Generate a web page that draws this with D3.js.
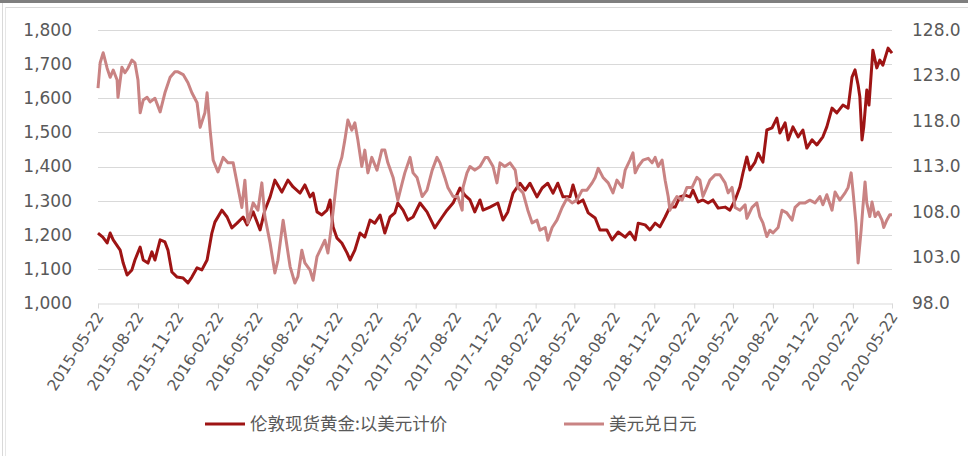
<!DOCTYPE html>
<html>
<head>
<meta charset="utf-8">
<script src="https://cdn.jsdelivr.net/npm/d3@7"></script>
<style>
  html, body { margin: 0; padding: 0; background: #fff; }
  svg { display: block; }
</style>
</head>
<body>
<svg id="chart" width="968" height="456"></svg>
<script>
// ---------------- DATA ----------------
const seriesNames = ["伦敦现货黄金:以美元计价", "美元兑日元"];

const leftTicks = [1000, 1100, 1200, 1300, 1400, 1500, 1600, 1700, 1800];
const rightTicks = [98, 103, 108, 113, 118, 123, 128];
const xTickLabels = ["2015-05-22","2015-08-22","2015-11-22","2016-02-22","2016-05-22","2016-08-22",
  "2016-11-22","2017-02-22","2017-05-22","2017-08-22","2017-11-22","2018-02-22","2018-05-22",
  "2018-08-22","2018-11-22","2019-02-22","2019-05-22","2019-08-22","2019-11-22","2020-02-22","2020-05-22"];

const goldDates = ["2015-05-22","2015-06-02","2015-06-12","2015-06-19","2015-06-26","2015-07-12","2015-07-19","2015-07-28",
  "2015-08-08","2015-08-15","2015-08-27","2015-09-03","2015-09-14","2015-09-23","2015-09-30","2015-10-12","2015-10-23",
  "2015-10-30","2015-11-08","2015-11-20","2015-12-04","2015-12-15","2015-12-24","2016-01-05","2016-01-16","2016-01-28",
  "2016-02-08","2016-02-15","2016-03-02","2016-03-14","2016-03-25","2016-04-06","2016-04-20","2016-04-29","2016-05-13",
  "2016-05-29","2016-06-09","2016-06-21","2016-07-02","2016-07-18","2016-08-01","2016-08-13","2016-08-29","2016-09-09",
  "2016-09-21","2016-09-28","2016-10-07","2016-10-18","2016-10-30","2016-11-06","2016-11-13","2016-11-22","2016-12-03",
  "2016-12-15","2016-12-22","2017-01-02","2017-01-14","2017-01-25","2017-02-06","2017-02-17","2017-03-01","2017-03-12",
  "2017-03-24","2017-04-04","2017-04-11","2017-04-23","2017-05-04","2017-05-16","2017-06-01","2017-06-17","2017-07-05",
  "2017-07-22","2017-08-02","2017-08-16","2017-09-01","2017-09-12","2017-09-24","2017-10-05","2017-10-17","2017-10-24",
  "2017-11-09","2017-11-27","2017-12-09","2017-12-20","2018-01-01","2018-01-17","2018-01-29","2018-02-09","2018-02-25",
  "2018-03-09","2018-03-22","2018-04-03","2018-04-14","2018-04-26","2018-05-12","2018-05-19","2018-05-31","2018-06-11",
  "2018-06-23","2018-07-09","2018-07-20","2018-08-05","2018-08-17","2018-08-31","2018-09-16","2018-09-27","2018-10-09",
  "2018-10-16","2018-11-01","2018-11-12","2018-11-24","2018-12-05","2018-12-17","2018-12-28","2019-01-09","2019-01-20",
  "2019-02-01","2019-02-12","2019-02-19","2019-03-03","2019-03-14","2019-03-26","2019-04-06","2019-04-18","2019-05-04",
  "2019-05-15","2019-05-27","2019-06-07","2019-06-14","2019-06-23","2019-06-30","2019-07-12","2019-07-19","2019-07-30",
  "2019-08-08","2019-08-20","2019-08-31","2019-09-07","2019-09-19","2019-09-26","2019-10-07","2019-10-19","2019-10-30",
  "2019-11-08","2019-11-20","2019-12-01","2019-12-15","2019-12-24","2020-01-05","2020-01-16","2020-01-30","2020-02-11",
  "2020-02-20","2020-02-27","2020-03-05","2020-03-09","2020-03-14","2020-03-18","2020-03-25","2020-03-30","2020-04-08",
  "2020-04-17","2020-04-24","2020-05-01","2020-05-13","2020-05-22"];
const goldValues = [1205,1193,1176,1205,1185,1155,1117,1082,
  1097,1126,1164,1126,1117,1150,1126,1185,1179,
  1155,1091,1076,1073,1059,1076,1103,1097,1126,
  1205,1237,1272,1252,1220,1234,1252,1229,1267,
  1214,1272,1311,1360,1325,1360,1340,1322,1346,
  1311,1322,1267,1258,1272,1302,1223,1190,1176,
  1147,1126,1155,1205,1193,1243,1234,1258,1205,
  1252,1264,1293,1272,1243,1252,1293,1267,1220,
  1252,1272,1293,1337,1316,1302,1267,1302,1272,
  1281,1293,1243,1267,1322,1351,1331,1351,1311,
  1337,1351,1322,1351,1311,1311,1346,1293,1302,
  1264,1249,1214,1214,1185,1208,1193,1208,1185,
  1234,1229,1214,1234,1223,1252,1281,1281,1311,
  1316,1311,1331,1296,1302,1293,1302,1278,1281,
  1272,1302,1340,1381,1428,1390,1413,1439,1413,
  1507,1513,1542,1498,1528,1478,1516,1487,1507,
  1454,1478,1463,1487,1516,1571,1557,1580,1571,
  1662,1683,1639,1604,1478,1516,1624,1580,1741,
  1689,1712,1697,1747,1732];

const jpyDates = ["2015-05-22","2015-05-27","2015-06-03","2015-06-12","2015-06-19","2015-06-26","2015-07-05","2015-07-07",
  "2015-07-16","2015-07-23","2015-07-30","2015-08-08","2015-08-15","2015-08-22","2015-08-27","2015-09-03","2015-09-12",
  "2015-09-19","2015-09-30","2015-10-12","2015-10-23","2015-11-04","2015-11-15","2015-11-22","2015-12-04","2015-12-15",
  "2015-12-24","2016-01-05","2016-01-12","2016-01-23","2016-01-28","2016-02-04","2016-02-11","2016-02-22","2016-03-05",
  "2016-03-16","2016-03-28","2016-04-08","2016-04-17","2016-04-24","2016-05-01","2016-05-13","2016-05-24","2016-06-02",
  "2016-06-09","2016-06-21","2016-07-02","2016-07-09","2016-07-21","2016-07-30","2016-08-06","2016-08-17","2016-08-24",
  "2016-09-02","2016-09-09","2016-09-21","2016-09-28","2016-10-07","2016-10-18","2016-10-25","2016-11-01","2016-11-08",
  "2016-11-17","2016-11-24","2016-12-03","2016-12-10","2016-12-17","2016-12-26","2017-01-02","2017-01-09","2017-01-18",
  "2017-01-25","2017-02-01","2017-02-10","2017-02-22","2017-03-05","2017-03-12","2017-03-19","2017-03-31","2017-04-11",
  "2017-04-21","2017-04-27","2017-05-09","2017-05-16","2017-05-25","2017-06-06","2017-06-17","2017-06-29","2017-07-10",
  "2017-07-17","2017-07-28","2017-08-04","2017-08-16","2017-08-27","2017-09-06","2017-09-08","2017-09-17","2017-09-24",
  "2017-10-05","2017-10-17","2017-10-29","2017-11-04","2017-11-16","2017-11-25","2017-12-02","2017-12-13","2017-12-25",
  "2018-01-06","2018-01-12","2018-01-24","2018-02-04","2018-02-14","2018-02-25","2018-03-04","2018-03-16","2018-03-22",
  "2018-04-01","2018-04-12","2018-04-24","2018-05-05","2018-05-17","2018-05-28","2018-06-09","2018-06-20","2018-07-02",
  "2018-07-09","2018-07-16","2018-07-27","2018-08-08","2018-08-19","2018-08-28","2018-09-09","2018-09-16","2018-09-27",
  "2018-10-04","2018-10-09","2018-10-16","2018-10-27","2018-11-08","2018-11-17","2018-11-24","2018-12-01","2018-12-10",
  "2018-12-17","2018-12-24","2018-12-28","2019-01-04","2019-01-13","2019-01-25","2019-02-05","2019-02-17","2019-02-28",
  "2019-03-07","2019-03-14","2019-03-23","2019-03-30","2019-04-11","2019-04-22","2019-05-04","2019-05-11","2019-05-20",
  "2019-05-27","2019-06-07","2019-06-19","2019-06-23","2019-07-05","2019-07-16","2019-07-23","2019-07-30","2019-08-08",
  "2019-08-15","2019-08-22","2019-09-03","2019-09-12","2019-09-23","2019-10-05","2019-10-12","2019-10-23","2019-11-04",
  "2019-11-15","2019-11-27","2019-12-08","2019-12-15","2019-12-24","2020-01-05","2020-01-12","2020-01-23","2020-02-04",
  "2020-02-11","2020-02-18","2020-02-22","2020-02-29","2020-03-05","2020-03-12","2020-03-16","2020-03-21","2020-03-25",
  "2020-04-01","2020-04-06","2020-04-13","2020-04-20","2020-04-29","2020-05-03","2020-05-10","2020-05-17","2020-05-22"];
const jpyValues = [121.6,124.4,125.5,123.8,122.8,123.6,122.5,120.6,
  123.9,123.3,123.8,124.7,124.4,122.5,118.9,120.3,120.6,
  120.1,120.5,119.0,121.1,122.8,123.4,123.4,123.1,122.2,
  121.1,120.0,117.3,118.9,121.1,117.0,113.7,112.4,114.0,
  113.4,113.4,110.7,108.5,111.5,106.8,109.0,108.2,111.2,
  107.5,104.6,101.3,102.7,107.1,104.2,102.0,100.2,100.9,
  103.8,102.4,101.6,100.5,103.1,104.2,104.9,103.5,106.0,
  109.7,112.6,114.0,115.9,118.1,117.0,117.8,115.9,113.0,
  114.8,112.3,114.0,112.6,114.8,114.8,113.4,111.8,109.3,
  111.2,112.3,114.0,112.3,111.8,109.7,110.4,112.6,114.0,
  113.4,111.8,110.7,109.7,109.7,108.2,110.7,112.3,113.0,
  112.6,113.0,114.0,114.0,113.0,111.2,113.4,113.0,113.4,
  112.6,110.7,110.1,108.2,106.8,107.1,106.0,106.3,104.9,
  106.3,107.1,108.5,109.5,109.0,109.3,110.4,110.4,111.2,
  111.8,112.8,111.8,111.2,110.1,111.5,110.7,112.6,113.7,
  114.5,112.3,113.0,113.7,113.9,113.4,114.0,113.0,113.7,
  111.5,109.7,108.2,109.0,109.7,109.3,110.7,110.7,111.8,
  111.5,109.7,110.7,111.5,112.1,112.1,111.2,110.1,110.7,
  108.5,108.2,108.8,107.3,108.5,109.0,107.5,106.8,105.3,
  106.0,105.7,106.3,108.2,107.9,107.1,108.5,109.0,109.0,
  109.3,109.0,109.7,108.8,109.9,108.2,110.2,109.3,110.1,
  110.7,112.3,110.4,106.8,102.4,106.0,108.5,111.3,109.0,
  107.5,109.1,107.5,108.0,107.1,106.3,107.1,107.7,107.7];

// ---------------- CHART ----------------
const parse = d3.timeParse("%Y-%m-%d");
const svg = d3.select("#chart");
const W = 968, H = 456;
const M = { left: 98, right: 892, top: 30, bottom: 303 };
const textColor = "#595959";
const gridColor = "#d9d9d9";
const goldColor = "#9e1414";
const jpyColor = "#c98383";
const font = "'DejaVu Sans', sans-serif";

svg.append("rect").attr("width", W).attr("height", H).attr("fill", "#fff");
// frame (screenshot edges)
svg.append("rect").attr("x", 0).attr("y", 0).attr("width", W).attr("height", 3).attr("fill", "#7f7f7f");
svg.append("line").attr("x1", 5).attr("x2", W).attr("y1", 7.5).attr("y2", 7.5).attr("stroke", "#d9d9d9");
svg.append("line").attr("x1", 2.5).attr("x2", 2.5).attr("y1", 3).attr("y2", H).attr("stroke", "#d9d9d9");
svg.append("line").attr("x1", 5.5).attr("x2", 5.5).attr("y1", 7).attr("y2", H).attr("stroke", "#e6e6e6");

const x = d3.scaleTime()
  .domain([parse(xTickLabels[0]), parse(xTickLabels[xTickLabels.length - 1])])
  .range([M.left, M.right]);
const yL = d3.scaleLinear().domain([1000, 1800]).range([M.bottom, M.top]);
const yR = d3.scaleLinear().domain([98, 128]).range([M.bottom, M.top]);

// gridlines
svg.append("g").selectAll("line").data(leftTicks.slice(1)).join("line")
  .attr("x1", M.left).attr("x2", M.right)
  .attr("y1", d => Math.round(yL(d)) + 0.5).attr("y2", d => Math.round(yL(d)) + 0.5)
  .attr("stroke", gridColor).attr("stroke-width", 1);

// left axis
const gL = svg.append("g").attr("transform", `translate(${M.left - 26},0)`)
  .call(d3.axisLeft(yL).tickValues(leftTicks).tickFormat(d3.format(",")).tickSize(0).tickPadding(0));
gL.select(".domain").remove();
gL.selectAll("text").attr("font-family", font).attr("font-size", 17).attr("fill", textColor);

// right axis
const gR = svg.append("g").attr("transform", `translate(${M.right + 20},0)`)
  .call(d3.axisRight(yR).tickValues(rightTicks).tickFormat(d3.format(".1f")).tickSize(0).tickPadding(0));
gR.select(".domain").remove();
gR.selectAll("text").attr("font-family", font).attr("font-size", 17).attr("fill", textColor);

// bottom axis
const gX = svg.append("g").attr("transform", `translate(0,${M.bottom + 0.5})`)
  .call(d3.axisBottom(x).tickValues(xTickLabels.map(parse)).tickFormat(d3.timeFormat("%Y-%m-%d")).tickSize(5).tickSizeOuter(0));
gX.select(".domain").attr("stroke", gridColor);
gX.selectAll(".tick line").attr("stroke", gridColor);
gX.selectAll("text")
  .attr("font-family", font).attr("font-size", 15.5).attr("fill", textColor)
  .attr("text-anchor", "end").attr("dy", 0).attr("y", 0)
  .attr("transform", "translate(6,13) rotate(-57)");

// lines
const goldData = goldDates.map((d, i) => ({ date: parse(d), v: goldValues[i] }));
const jpyData = jpyDates.map((d, i) => ({ date: parse(d), v: jpyValues[i] }));

svg.append("path").datum(goldData)
  .attr("fill", "none").attr("stroke", goldColor).attr("stroke-width", 3)
  .attr("stroke-linejoin", "round")
  .attr("d", d3.line().x(d => x(d.date)).y(d => yL(d.v)));
svg.append("path").datum(jpyData)
  .attr("fill", "none").attr("stroke", jpyColor).attr("stroke-width", 3)
  .attr("stroke-linejoin", "round")
  .attr("d", d3.line().x(d => x(d.date)).y(d => yR(d.v)));

// legend
const legendItems = [
  { name: seriesNames[0], color: goldColor, x: 205 },
  { name: seriesNames[1], color: jpyColor, x: 564 }
];
const lg = svg.append("g");
legendItems.forEach(it => {
  lg.append("line").attr("x1", it.x).attr("x2", it.x + 40).attr("y1", 424).attr("y2", 424)
    .attr("stroke", it.color).attr("stroke-width", 3);
  lg.append("text").attr("x", it.x + 45).attr("y", 430)
    .attr("font-family", "'Noto Sans CJK SC', sans-serif").attr("font-size", 17.5)
    .attr("fill", textColor).text(it.name);
});
</script>
</body>
</html>
